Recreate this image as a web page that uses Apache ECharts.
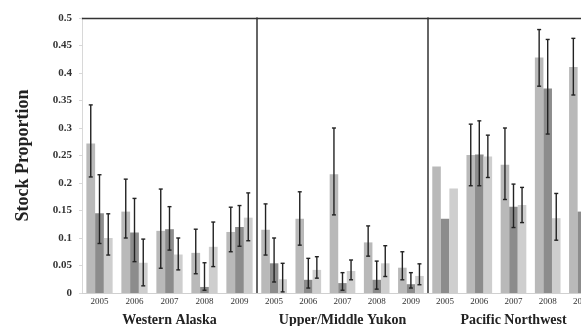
<!DOCTYPE html>
<html>
<head>
<meta charset="utf-8">
<script src="https://cdn.jsdelivr.net/npm/echarts@6/dist/echarts.min.js"></script>
<style>
html,body{margin:0;padding:0;background:#fff;overflow:hidden;}
#chart{width:581px;height:326px;}
</style>
</head>
<body>
<div id="chart"></div>
<script>
// ---- data ----
var years = ['2005', '2006', '2007', '2008', '2009'];
var regions = ['Western Alaska', 'Upper/Middle Yukon', 'Pacific Northwest'];

// Western Alaska
var waVal1 = [0.272, 0.148, 0.113, 0.073, 0.111];
var waHi1  = [0.342, 0.207, 0.189, 0.116, 0.156];
var waLo1  = [0.211, 0.100, 0.045, 0.035, 0.075];
var waVal2 = [0.145, 0.110, 0.116, 0.011, 0.120];
var waHi2  = [0.215, 0.172, 0.157, 0.055, 0.159];
var waLo2  = [0.090, 0.057, 0.078, 0.005, 0.085];
var waVal3 = [0.100, 0.055, 0.070, 0.084, 0.137];
var waHi3  = [0.144, 0.098, 0.100, 0.129, 0.182];
var waLo3  = [0.069, 0.013, 0.042, 0.048, 0.095];

// Upper/Middle Yukon
var ykVal1 = [0.115, 0.135, 0.216, 0.092, 0.046];
var ykHi1  = [0.162, 0.184, 0.300, 0.122, 0.075];
var ykLo1  = [0.069, 0.087, 0.142, 0.067, 0.024];
var ykVal2 = [0.054, 0.024, 0.018, 0.024, 0.016];
var ykHi2  = [0.100, 0.063, 0.037, 0.058, 0.037];
var ykLo2  = [0.020, 0.009, 0.005, 0.007, 0.009];
var ykVal3 = [0.025, 0.042, 0.040, 0.054, 0.031];
var ykHi3  = [0.054, 0.066, 0.060, 0.086, 0.053];
var ykLo3  = [0.002, 0.027, 0.024, 0.030, 0.015];

// Pacific Northwest
var pnVal1 = [0.230, 0.251, 0.233, 0.428, 0.411];
var pnHi1  = [null, 0.307, 0.300, 0.479, 0.463];
var pnLo1  = [null, 0.195, 0.170, 0.376, 0.360];
var pnVal2 = [0.135, 0.252, 0.157, 0.372, 0.148];
var pnHi2  = [null, 0.313, 0.198, 0.461, null];
var pnLo2  = [null, 0.195, 0.119, 0.289, null];
var pnVal3 = [0.190, 0.248, 0.160, 0.136, null];
var pnHi3  = [null, 0.287, 0.192, 0.181, null];
var pnLo3  = [null, 0.210, 0.128, 0.096, null];

var yTicks = [0, 0.05, 0.1, 0.15, 0.2, 0.25, 0.3, 0.35, 0.4, 0.45, 0.5];

// ---- build ----
var panels = [
  {vals: [waVal1, waVal2, waVal3], his: [waHi1, waHi2, waHi3], los: [waLo1, waLo2, waLo3]},
  {vals: [ykVal1, ykVal2, ykVal3], his: [ykHi1, ykHi2, ykHi3], los: [ykLo1, ykLo2, ykLo3]},
  {vals: [pnVal1, pnVal2, pnVal3], his: [pnHi1, pnHi2, pnHi3], los: [pnLo1, pnLo2, pnLo3]}
];
var barColors = ['#b9b9b9', '#8c8c8c', '#cecece'];
var FONT = 'Liberation Serif';
var gridDefs = [
  {left: 82, width: 175},
  {left: 257, width: 171},
  {left: 428, width: 171}
];
var CAT_GAP = 0.25;

var grids = [], xAxes = [], yAxes = [], series = [];
gridDefs.forEach(function (g, gi) {
  grids.push({left: g.left, width: g.width, top: 18, height: 275,
    containLabel: false, outerBoundsMode: 'none'});
  xAxes.push({
    type: 'category', gridIndex: gi, data: years, position: 'bottom',
    axisLine: {show: true, lineStyle: {color: '#d0d0d0', width: 1}},
    axisTick: {show: false},
    axisLabel: {fontFamily: FONT, fontSize: 9, color: '#333', margin: 4, interval: 0},
    name: regions[gi], nameLocation: 'middle', nameGap: 20,
    nameTextStyle: {fontFamily: FONT, fontSize: 14, fontWeight: 'bold', color: '#222'}
  });
  xAxes.push({
    type: 'category', gridIndex: gi, data: years, position: 'top',
    axisLine: {show: true, lineStyle: {color: '#333', width: 1.3}},
    axisTick: {show: false}, axisLabel: {show: false}
  });
  var yA = {
    type: 'value', gridIndex: gi, min: 0, max: 0.5, interval: 0.05,
    splitLine: {show: false}
  };
  if (gi === 0) {
    yA.axisLine = {show: true, lineStyle: {color: '#d8d8d8'}};
    yA.axisTick = {show: true, length: 3, lineStyle: {color: '#d8d8d8'}};
    yA.axisLabel = {fontFamily: FONT, fontSize: 11, color: '#333', margin: 10, fontWeight: 'bold',
      formatter: function (v) {
        var idx = yTicks.findIndex(function (t) { return Math.abs(t - v) < 1e-9; });
        return idx >= 0 ? String(yTicks[idx]) : '';
      }};
    yA.name = 'Stock Proportion';
    yA.nameLocation = 'middle';
    yA.nameRotate = 90;
    yA.nameGap = 50;
    yA.nameTextStyle = {fontFamily: FONT, fontSize: 18, fontWeight: 'bold', color: '#222'};
  } else {
    yA.axisLine = {show: true, lineStyle: {color: '#333', width: 1.5}};
    yA.axisTick = {show: false};
    yA.axisLabel = {show: false};
  }
  yAxes.push(yA);

  var p = panels[gi];
  for (var s = 0; s < 3; s++) {
    series.push({
      type: 'bar', xAxisIndex: gi * 2, yAxisIndex: gi,
      data: p.vals[s], barGap: '0%', barCategoryGap: (CAT_GAP * 100) + '%',
      itemStyle: {color: barColors[s]},
      silent: true, animation: false
    });
  }
  var errData = [];
  for (var s2 = 0; s2 < 3; s2++) {
    for (var c = 0; c < years.length; c++) {
      if (p.his[s2][c] != null && p.los[s2][c] != null) {
        errData.push([c, s2, p.los[s2][c], p.his[s2][c]]);
      }
    }
  }
  series.push({
    type: 'custom', xAxisIndex: gi * 2, yAxisIndex: gi,
    data: errData, encode: {x: 0, y: [2, 3]}, z: 10, silent: true, animation: false,
    renderItem: function (params, api) {
      var c = api.value(0), s = api.value(1);
      var lo = api.coord([c, api.value(2)]);
      var hi = api.coord([c, api.value(3)]);
      var band = api.size([1, 0])[0];
      var bw = band * (1 - CAT_GAP) / 3;
      var x = lo[0] + (s - 1) * bw;
      var cap = 2;
      var st = {stroke: '#222', lineWidth: 1.4};
      return {
        type: 'group',
        children: [
          {type: 'line', shape: {x1: x, y1: lo[1], x2: x, y2: hi[1]}, style: st},
          {type: 'line', shape: {x1: x - cap, y1: lo[1], x2: x + cap, y2: lo[1]}, style: st},
          {type: 'line', shape: {x1: x - cap, y1: hi[1], x2: x + cap, y2: hi[1]}, style: st}
        ]
      };
    }
  });
});

var chart = echarts.init(document.getElementById('chart'), null, {renderer: 'canvas'});
chart.setOption({
  backgroundColor: '#ffffff',
  animation: false,
  grid: grids,
  xAxis: xAxes,
  yAxis: yAxes,
  series: series
});
</script>
</body>
</html>
